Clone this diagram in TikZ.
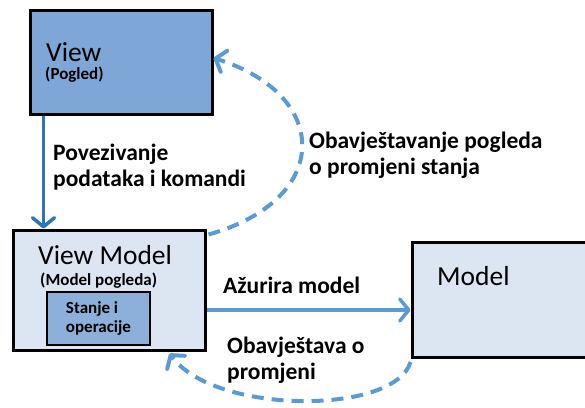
\documentclass[tikz,border=0pt]{standalone}
\usepackage{fontspec}
\setmainfont{Carlito}
\usetikzlibrary{arrows.meta, positioning}
\definecolor{viewblue}{RGB}{126,166,214}
\definecolor{paleblue}{RGB}{220,230,242}
\definecolor{innerblue}{RGB}{141,176,218}
\definecolor{linkblue}{RGB}{46,117,182}
\definecolor{notifyblue}{RGB}{91,155,213}
\newcommand*{\sketchfont}{\fontsize{27.5}{30}\selectfont}
\newcommand*{\labelfont}{\fontsize{23.5}{26}\selectfont\bfseries}
\newcommand*{\smallfont}{\fontsize{17}{19}\selectfont\bfseries}

\begin{document}
\begin{tikzpicture}[x=1pt, y=-1pt, >={Straight Barb[round,length=9pt,width=22pt]},
      box/.style={draw=black, line width=3pt, rectangle, inner sep=0pt},
      title/.style={anchor=base west, inner sep=0pt, font=\sketchfont},
      lbl/.style={anchor=base west, inner sep=0pt, align=left, font=\labelfont},
      binding/.style={draw=linkblue, line width=3.5pt, ->},
      update/.style={draw=notifyblue, line width=3.5pt, ->},
      notify/.style={draw=notifyblue, line width=4pt, dash pattern=on 12pt off 8pt, ->}]
      \useasboundingbox (0,0) rectangle (585,407);
      % boxes
      \node[box, fill=viewblue, minimum width=182pt, minimum height=104pt] (view) at (121,62) {};
      \node[box, fill=paleblue, minimum width=192pt, minimum height=120pt] (vm) at (109,290) {};
      \node[box, fill=paleblue, minimum width=200pt, minimum height=115pt] (model) at (512,300) {};
      \node[draw=black, line width=2pt, fill=innerblue, minimum width=103pt, minimum height=53pt,
        align=left, font=\smallfont] (state) at (98.5,318.5) {Stanje i\\operacije};
      % titles
      \node[title] (viewtitle) at (46,61) {View};
      \node[anchor=base west, inner sep=0pt, font=\smallfont] (viewsub) at (45,79) {(Pogled)};
      \node[title] (vmtitle) at (38,264) {View Model};
      \node[anchor=base west, inner sep=0pt, font=\smallfont] (vmsub) at (40,285) {(Model pogleda)};
      \node[title] (modeltitle) at (437,285) {Model};
      % connectors
      \draw[binding] ([xshift=15pt]view.south west) -- ([xshift=15pt]view.south west |- vm.north);
      \draw[update] ([yshift=-20pt]vm.east) -- ([yshift=-20pt]vm.east -| model.west);
      \draw[notify] ([xshift=2pt,yshift=-6pt]vm.north east) .. controls (332,200) and (332,95) .. ([yshift=4pt]view.east);
      \draw[notify] ([yshift=-3pt]model.south west) .. controls (395,415) and (215,415) .. ([xshift=-37pt,yshift=-2pt]vm.south east);
      % labels (base = last line)
      \node[lbl] (bindlabel) at (53,186) {Povezivanje\\podataka i komandi};
      \node[lbl] (viewnote) at (309,174) {Obavještavanje pogleda\\o promjeni stanja};
      \node[lbl] (updatelabel) at (223,293) {Ažurira model};
      \node[lbl] (vmnote) at (227,379) {Obavještava o\\promjeni};
\end{tikzpicture}
\end{document}
